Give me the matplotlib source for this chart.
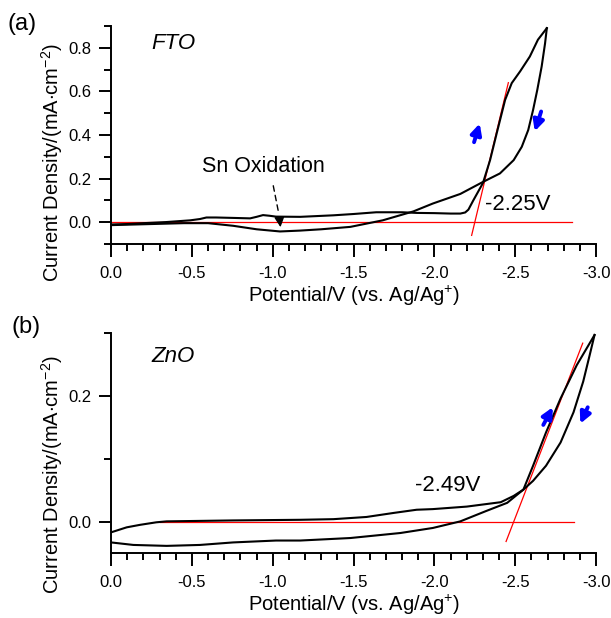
import matplotlib
matplotlib.use("Agg")
import matplotlib.pyplot as plt
from matplotlib.ticker import MultipleLocator

plt.rcParams['font.family'] = ['Liberation Sans', 'DejaVu Sans']
plt.rcParams['mathtext.fontset'] = 'custom'
plt.rcParams['mathtext.rm'] = 'Liberation Sans'
plt.rcParams['mathtext.it'] = 'Liberation Sans:italic'
plt.rcParams['axes.unicode_minus'] = False

# FTO cyclic voltammogram (forward and reverse scan)
fto_fwd_x = [0, -0.1, -0.2, -0.34, -0.49, -0.55, -0.59, -0.65, -0.76, -0.86, -0.9, -0.94,
             -0.98, -1.02, -1.17, -1.375, -1.5, -1.64, -1.8, -1.89, -2.0, -2.1, -2.16,
             -2.19, -2.21, -2.24, -2.27, -2.30, -2.344, -2.385, -2.437, -2.478, -2.53,
             -2.59, -2.64, -2.695]
fto_fwd_y = [-0.010, -0.008, -0.004, 0.001, 0.009, 0.015, 0.022, 0.022, 0.020, 0.018, 0.025,
             0.033, 0.030, 0.026, 0.025, 0.032, 0.038, 0.046, 0.046, 0.043, 0.042, 0.040,
             0.040, 0.045, 0.058, 0.10, 0.14, 0.18, 0.285, 0.408, 0.561, 0.638, 0.692,
             0.76, 0.837, 0.89]
fto_rev_x = [-2.695, -2.684, -2.663, -2.636, -2.61, -2.58, -2.54, -2.49, -2.405, -2.30,
             -2.16, -1.99, -1.87, -1.68, -1.48, -1.3, -1.17, -1.045, -0.9, -0.755, -0.6,
             -0.45, -0.3, -0.15, 0]
fto_rev_y = [0.89, 0.82, 0.714, 0.607, 0.515, 0.423, 0.346, 0.285, 0.224, 0.185, 0.13,
             0.086, 0.05, 0.009, -0.021, -0.032, -0.038, -0.042, -0.032, -0.016, -0.004,
             -0.004, -0.007, -0.010, -0.013]
fto_base_x = [0, -2.85]
fto_base_y = [0, 0]
fto_tan_x = [-2.23, -2.457]
fto_tan_y = [-0.06, 0.64]

# ZnO cyclic voltammogram
zno_fwd_x = [0, -0.138, -0.344, -0.55, -0.755, -1.02, -1.17, -1.48, -1.79, -1.99, -2.16,
             -2.32, -2.45, -2.55, -2.61, -2.69, -2.78, -2.88, -2.99]
zno_fwd_y = [-0.033, -0.037, -0.0385, -0.037, -0.033, -0.030, -0.030, -0.026, -0.018,
             -0.010, 0.0005, 0.017, 0.030, 0.051, 0.089, 0.142, 0.196, 0.249, 0.297]
zno_rev_x = [-2.99, -2.96, -2.92, -2.86, -2.78, -2.69, -2.61, -2.55, -2.49, -2.41, -2.20,
             -1.99, -1.89, -1.75, -1.58, -1.375, -1.17, -0.755, -0.344, -0.28, -0.18,
             -0.097, 0]
zno_rev_y = [0.297, 0.265, 0.223, 0.174, 0.126, 0.089, 0.065, 0.051, 0.041, 0.031, 0.024,
             0.020, 0.019, 0.014, 0.0075, 0.004, 0.003, 0.002, 0.0005, -0.001, -0.005,
             -0.009, -0.017]
zno_base_x = [-0.30, -2.86]
zno_base_y = [0, 0]
zno_tan_x = [-2.443, -2.917]
zno_tan_y = [-0.0315, 0.284]

fig = plt.figure(figsize=(6.11, 6.18), dpi=100)
ax1 = fig.add_axes([0.1817, 0.605, 0.794, 0.353])
ax2 = fig.add_axes([0.1817, 0.105, 0.794, 0.356])

xlab = 'Potential/V (vs. Ag/Ag$^{+}$)'
ylab = 'Current Density/(mA$\\cdot$cm$^{-2}$)'

for ax in (ax1, ax2):
    ax.set_xlim(0, -3.0)
    ax.spines['top'].set_visible(False)
    ax.spines['right'].set_visible(False)
    for s in ('left', 'bottom'):
        ax.spines[s].set_linewidth(1.4)
    ax.xaxis.set_major_locator(MultipleLocator(0.5))
    ax.xaxis.set_minor_locator(MultipleLocator(0.1))
    ax.yaxis.set_minor_locator(MultipleLocator(0.1))
    ax.tick_params(which='major', length=9, width=1.4, labelsize=12)
    ax.tick_params(which='minor', length=4.8, width=1.4)
    ax.tick_params(axis='x', which='major', pad=7)
    ax.tick_params(axis='y', which='major', pad=5)
    ax.set_xlabel(xlab, fontsize=14.5, labelpad=2)
    ax.set_ylabel(ylab, fontsize=14.5, va='center')

# panel (a)
ax1.set_ylim(-0.1, 0.9)
ax1.yaxis.set_major_locator(MultipleLocator(0.2))
ax1.plot(fto_base_x, fto_base_y, color='red', lw=0.9)
ax1.plot(fto_tan_x, fto_tan_y, color='red', lw=0.9)
ax1.plot(fto_fwd_x, fto_fwd_y, color='black', lw=1.5)
ax1.plot(fto_rev_x, fto_rev_y, color='black', lw=1.5)
ax1.text(-0.25, 0.818, 'FTO', fontsize=16, style='italic', va='center')
ax1.text(-2.31, 0.08, '-2.25V', fontsize=16, va='center')
ax1.text(-0.94, 0.257, 'Sn Oxidation', fontsize=15.5, ha='center', va='center')
ax1.annotate('', xy=(-1.04, 0.03), xytext=(-1.0, 0.18),
             arrowprops=dict(arrowstyle='-', color='black', lw=1, linestyle=(0, (4, 3))))
ax1.annotate('', xy=(-1.05, -0.035), xytext=(-1.04, 0.03),
             arrowprops=dict(arrowstyle='-|>', color='black', lw=1, mutation_scale=15))
ax1.annotate('', xy=(-2.285, 0.465), xytext=(-2.24, 0.355),
             arrowprops=dict(arrowstyle='-|>', color='blue', lw=2.8, mutation_scale=16))
ax1.annotate('', xy=(-2.615, 0.405), xytext=(-2.665, 0.52),
             arrowprops=dict(arrowstyle='-|>', color='blue', lw=2.8, mutation_scale=16))
ax1.yaxis.set_label_coords(-0.122, 0.376)

# panel (b)
ax2.set_ylim(-0.05, 0.3)
ax2.yaxis.set_major_locator(MultipleLocator(0.2))
ax2.plot(zno_base_x, zno_base_y, color='red', lw=0.9)
ax2.plot(zno_tan_x, zno_tan_y, color='red', lw=0.9)
ax2.plot(zno_fwd_x, zno_fwd_y, color='black', lw=1.5)
ax2.plot(zno_rev_x, zno_rev_y, color='black', lw=1.5)
ax2.text(-0.25, 0.262, 'ZnO', fontsize=16, style='italic', va='center')
ax2.text(-1.88, 0.058, '-2.49V', fontsize=16, va='center')
ax2.annotate('', xy=(-2.74, 0.186), xytext=(-2.665, 0.15),
             arrowprops=dict(arrowstyle='-|>', color='blue', lw=2.8, mutation_scale=16))
ax2.annotate('', xy=(-2.895, 0.152), xytext=(-2.955, 0.186),
             arrowprops=dict(arrowstyle='-|>', color='blue', lw=2.8, mutation_scale=16))
ax2.yaxis.set_label_coords(-0.122, 0.355)

fig.text(0.013, 0.961, '(a)', fontsize=17, va='center')
fig.text(0.019, 0.471, '(b)', fontsize=17, va='center')

fig.savefig('out.png', dpi=100)
